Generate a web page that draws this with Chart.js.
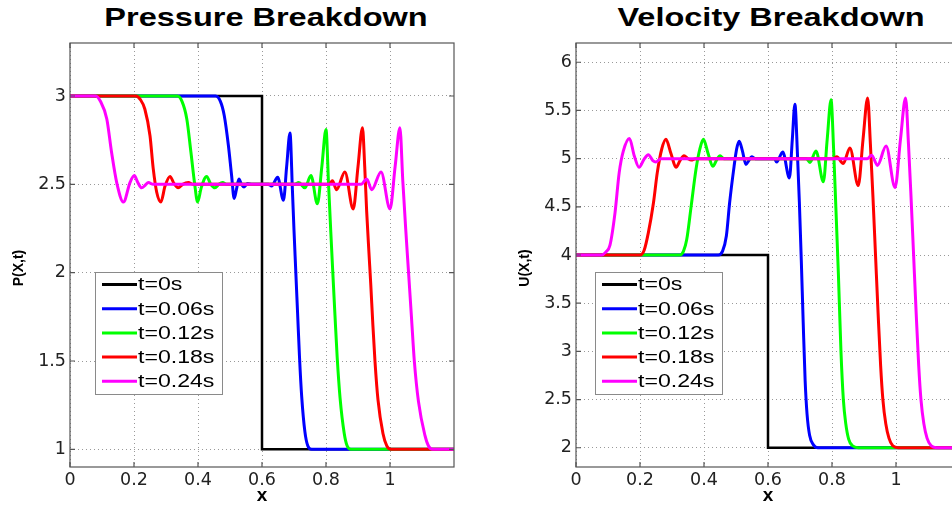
<!DOCTYPE html>
<html>
<head>
<meta charset="utf-8">
<script src="https://cdn.jsdelivr.net/npm/chart.js@4.4.1/dist/chart.umd.min.js"></script>
<style>
    body { margin: 0; background: #fff; width: 952px; height: 507px; overflow: hidden; position: relative; }
    canvas { position: absolute; top: 0; }
    #presChart { left: 0; }
    #velChart { left: 476px; }
    .ttl {
        position: absolute; top: 5px; width: 400px; margin-left: -200px;
        text-align: center; white-space: nowrap; color: #000;
        font: bold 25px/25px "Liberation Sans", Arial, sans-serif;
        transform: scaleX(1.3);
    }
</style>
</head>
<body>
<div class="ttl" style="left:266px">Pressure Breakdown</div>
<div class="ttl" style="left:771px">Velocity Breakdown</div>
<canvas id="presChart" width="476" height="507"></canvas>
<canvas id="velChart" width="506" height="507"></canvas>
<script>
// ===== Axis ticks and labels =====
const xTicks = [0, 0.2, 0.4, 0.6, 0.8, 1];
const xTickLabels = ['0', '0.2', '0.4', '0.6', '0.8', '1'];
const presTicks = [1, 1.5, 2, 2.5, 3];
const presTickLabels = ['1', '1.5', '2', '2.5', '3'];
const velTicks = [2, 2.5, 3, 3.5, 4, 4.5, 5, 5.5, 6];
const velTickLabels = ['2', '2.5', '3', '3.5', '4', '4.5', '5', '5.5', '6'];

// ===== Series =====
const seriesLabels = ['t=0s', 't=0.06s', 't=0.12s', 't=0.18s', 't=0.24s'];
const seriesColors = ['#000000', '#0000ff', '#00ff00', '#ff0000', '#ff00ff'];

// ===== Pressure P(X,t), [x, P] =====
const presT0 = [[0, 3], [0.6, 3], [0.6, 1], [1.2, 1]];
const presT006 = [
    [0, 3], [0.455, 3], [0.47, 2.97], [0.482, 2.89], [0.495, 2.72], [0.505, 2.55], [0.513, 2.42],
    [0.52, 2.47], [0.528, 2.53], [0.536, 2.5], [0.544, 2.485], [0.555, 2.505], [0.57, 2.5],
    [0.62, 2.5], [0.63, 2.49], [0.649, 2.54], [0.667, 2.41], [0.677, 2.6], [0.6875, 2.79],
    [0.695, 2.47], [0.7, 2.24], [0.705, 2.03], [0.711, 1.78], [0.717, 1.53], [0.724, 1.3],
    [0.734, 1.1], [0.743, 1.02], [0.755, 1], [1.2, 1]
];
const presT012 = [
    [0, 3], [0.335, 3], [0.35, 2.97], [0.365, 2.87], [0.378, 2.68], [0.389, 2.51], [0.399, 2.4],
    [0.41, 2.48], [0.427, 2.545], [0.44, 2.5], [0.453, 2.48], [0.465, 2.5], [0.477, 2.51], [0.49, 2.5],
    [0.7, 2.5], [0.715, 2.51], [0.734, 2.48], [0.753, 2.55], [0.773, 2.39], [0.787, 2.6], [0.8, 2.81],
    [0.808, 2.5], [0.815, 2.23], [0.821, 2.01], [0.828, 1.76], [0.835, 1.52], [0.844, 1.29],
    [0.857, 1.09], [0.866, 1.02], [0.878, 1], [1.2, 1]
];
const presT018 = [
    [0, 3], [0.205, 3], [0.22, 2.98], [0.234, 2.925], [0.25, 2.775], [0.26, 2.59], [0.271, 2.455],
    [0.284, 2.4], [0.297, 2.49], [0.3125, 2.545], [0.325, 2.505], [0.338, 2.48], [0.352, 2.5],
    [0.37, 2.51], [0.385, 2.5], [0.81, 2.5], [0.82, 2.52], [0.833, 2.47], [0.859, 2.57],
    [0.885, 2.36], [0.9, 2.6], [0.914, 2.82], [0.921, 2.6], [0.927, 2.35], [0.934, 2.12],
    [0.94, 1.93], [0.946, 1.72], [0.953, 1.5], [0.9625, 1.28], [0.978, 1.09], [0.99, 1.02],
    [1.003, 1], [1.2, 1]
];
const presT024 = [
    [0, 3], [0.08, 3], [0.095, 2.97], [0.115, 2.87], [0.13, 2.68], [0.146, 2.51], [0.167, 2.4],
    [0.1875, 2.51], [0.201, 2.55], [0.212, 2.51], [0.224, 2.48], [0.235, 2.495], [0.245, 2.51],
    [0.26, 2.5], [0.91, 2.5], [0.927, 2.53], [0.943, 2.47], [0.972, 2.57], [1.0, 2.36],
    [1.016, 2.6], [1.031, 2.82], [1.04, 2.52], [1.049, 2.25], [1.058, 2.0], [1.067, 1.75],
    [1.076, 1.5], [1.089, 1.27], [1.109, 1.08], [1.12, 1.02], [1.133, 1], [1.2, 1]
];

// ===== Velocity U(X,t), [x, U] =====
const velT0 = [[0, 4], [0.6, 4], [0.6, 2], [1.2, 2]];
const velT006 = [
    [0, 4], [0.445, 4], [0.458, 4.04], [0.47, 4.2], [0.48, 4.54], [0.494, 4.92], [0.502, 5.1],
    [0.51, 5.18], [0.52, 5.08], [0.531, 4.94], [0.54, 4.98], [0.549, 5.02], [0.56, 5.0],
    [0.62, 5.0], [0.627, 4.965], [0.646, 5.07], [0.667, 4.8], [0.676, 5.2], [0.684, 5.565],
    [0.692, 5.05], [0.698, 4.55], [0.704, 3.95], [0.71, 3.3], [0.716, 2.7], [0.722, 2.35],
    [0.73, 2.13], [0.742, 2.03], [0.756, 2], [1.2, 2]
];
const velT012 = [
    [0, 4], [0.325, 4], [0.336, 4.04], [0.346, 4.16], [0.36, 4.51], [0.375, 4.89], [0.387, 5.1],
    [0.398, 5.2], [0.413, 5.05], [0.4275, 4.92], [0.44, 4.99], [0.45, 5.03], [0.462, 5.0],
    [0.72, 5.0], [0.731, 4.96], [0.75, 5.08], [0.773, 4.76], [0.785, 5.2], [0.797, 5.61],
    [0.805, 5.1], [0.812, 4.5], [0.82, 3.8], [0.828, 3.0], [0.8355, 2.5], [0.843, 2.25],
    [0.852, 2.09], [0.864, 2.02], [0.882, 2], [1.2, 2]
];
const velT018 = [
    [0, 4], [0.2, 4], [0.213, 4.05], [0.226, 4.23], [0.242, 4.54], [0.254, 4.855], [0.268, 5.1],
    [0.281, 5.2], [0.297, 5.05], [0.3125, 4.91], [0.325, 4.98], [0.3375, 5.03], [0.35, 5.0],
    [0.36, 4.985], [0.375, 5.0], [0.805, 5.0], [0.815, 5.02], [0.835, 4.95], [0.856, 5.11],
    [0.882, 4.72], [0.897, 5.2], [0.9115, 5.63], [0.92, 5.15], [0.928, 4.6], [0.936, 4.0],
    [0.944, 3.4], [0.952, 2.85], [0.959, 2.5], [0.968, 2.25], [0.978, 2.1], [0.99, 2.02],
    [1.007, 2], [1.2, 2]
];
const velT024 = [
    [0, 4], [0.08, 4], [0.093, 4.03], [0.106, 4.1], [0.122, 4.44], [0.135, 4.855], [0.148, 5.08],
    [0.167, 5.21], [0.182, 5.03], [0.197, 4.91], [0.212, 4.99], [0.226, 5.04], [0.24, 4.98],
    [0.25, 4.965], [0.265, 5.0], [0.91, 5.0], [0.924, 5.035], [0.942, 4.93], [0.969, 5.13],
    [0.997, 4.7], [1.014, 5.2], [1.03, 5.63], [1.039, 5.15], [1.047, 4.6], [1.055, 4.0],
    [1.063, 3.4], [1.071, 2.85], [1.078, 2.5], [1.087, 2.25], [1.097, 2.1], [1.11, 2.02],
    [1.127, 2], [1.2, 2]
];

// ===== Plugins: axes box with inner ticks, y title, legend box =====
const frameBox = {
    id: 'frameBox',
    afterDraw(chart, args, opts) {
        const { ctx, chartArea: a, scales } = chart;
        ctx.save();
        ctx.strokeStyle = '#555';
        ctx.lineWidth = 1.2;
        ctx.strokeRect(a.left, a.top, a.right - a.left, a.bottom - a.top);
        ctx.beginPath();
        scales.x.ticks.forEach(t => {
            const px = scales.x.getPixelForValue(t.value);
            ctx.moveTo(px, a.bottom); ctx.lineTo(px, a.bottom - 5);
            ctx.moveTo(px, a.top); ctx.lineTo(px, a.top + 5);
        });
        scales.y.ticks.forEach(t => {
            const py = scales.y.getPixelForValue(t.value);
            ctx.moveTo(a.left, py); ctx.lineTo(a.left + 5, py);
            ctx.moveTo(a.right, py); ctx.lineTo(a.right - 5, py);
        });
        ctx.stroke();
        // y axis title, rotated
        ctx.translate(opts.titleX, opts.titleY);
        ctx.rotate(-Math.PI / 2);
        ctx.fillStyle = '#000';
        ctx.font = 'bold 14px "Liberation Sans", Arial, sans-serif';
        ctx.textAlign = 'center';
        ctx.textBaseline = 'middle';
        ctx.fillText(opts.title, 0, 0);
        ctx.restore();
    }
};

const boxLegend = {
    id: 'boxLegend',
    afterDatasetsDraw(chart, args, opts) {
        const ctx = chart.ctx;
        const x0 = chart.chartArea.left + opts.dx;
        const y0 = opts.top;
        ctx.save();
        ctx.fillStyle = '#fff';
        ctx.fillRect(x0, y0, 127, 122);
        ctx.strokeStyle = '#8a8a8a';
        ctx.lineWidth = 1;
        ctx.strokeRect(x0 + 0.5, y0 + 0.5, 127, 122);
        chart.data.datasets.forEach((ds, i) => {
            const yy = y0 + 12.5 + i * 24.2;
            ctx.strokeStyle = ds.borderColor;
            ctx.lineWidth = 3;
            ctx.beginPath();
            ctx.moveTo(x0 + 7, yy);
            ctx.lineTo(x0 + 42, yy);
            ctx.stroke();
            ctx.save();
            ctx.translate(x0 + 43, yy + 1);
            ctx.scale(1.32, 1);
            ctx.fillStyle = '#000';
            ctx.font = '17.5px "Liberation Sans", Arial, sans-serif';
            ctx.textBaseline = 'middle';
            ctx.fillText(ds.label, 0, 0);
            ctx.restore();
        });
        ctx.restore();
    }
};

// ===== Chart builder =====
function makeChart(id, cfg) {
    const tickFont = { family: '"DejaVu Sans", sans-serif', size: 17.5 };
    return new Chart(document.getElementById(id), {
        type: 'line',
        data: {
            datasets: cfg.series.map((pts, i) => ({
                label: seriesLabels[i],
                data: pts,
                order: cfg.series.length - i, // later times on top, like the plot
                borderColor: seriesColors[i],
                backgroundColor: seriesColors[i],
                borderWidth: i === 0 ? 2.5 : 3,
                pointRadius: 0,
                tension: 0,
                cubicInterpolationMode: i === 0 ? 'default' : 'monotone',
                fill: false
            }))
        },
        options: {
            responsive: false,
            animation: false,
            layout: { padding: { top: 43, right: 22, left: 0, bottom: 0 } },
            plugins: {
                legend: { display: false },
                tooltip: { enabled: false },
                boxLegend: { dx: cfg.legendDx, top: 272 },
                frameBox: { title: cfg.yTitle, titleX: cfg.yTitleX, titleY: 268 }
            },
            scales: {
                x: {
                    type: 'linear', min: 0, max: 1.2,
                    afterBuildTicks: ax => { ax.ticks = xTicks.map(v => ({ value: v })); },
                    afterFit: ax => { ax.height = 40; },
                    ticks: {
                        callback: v => xTickLabels[xTicks.indexOf(v)],
                        font: tickFont, color: '#222', padding: 3, maxRotation: 0, autoSkip: false
                    },
                    grid: { color: '#999', drawTicks: false },
                    border: { display: false, dash: [1, 3] },
                    title: {
                        display: true, text: 'x', color: '#000', padding: 0,
                        font: { family: '"Liberation Sans", Arial, sans-serif', weight: 'bold', size: 19 }
                    }
                },
                y: {
                    type: 'linear', min: cfg.yMin, max: cfg.yMax,
                    afterBuildTicks: ax => { ax.ticks = cfg.yTicks.map(v => ({ value: v })); },
                    afterFit: ax => { ax.width = cfg.yWidth; },
                    ticks: {
                        callback: v => cfg.yTickLabels[cfg.yTicks.indexOf(v)],
                        font: tickFont, color: '#222', padding: 4, autoSkip: false
                    },
                    grid: { color: '#999', drawTicks: false },
                    border: { display: false, dash: [1, 3] }
                }
            }
        },
        plugins: [boxLegend, frameBox]
    });
}

// ===== Build both panels =====
makeChart('presChart', {
    series: [presT0, presT006, presT012, presT018, presT024],
    yMin: 0.9, yMax: 3.3, yTicks: presTicks, yTickLabels: presTickLabels,
    yTitle: 'P(X,t)', yTitleX: 19, yWidth: 70, legendDx: 25
});
makeChart('velChart', {
    series: [velT0, velT006, velT012, velT018, velT024],
    yMin: 1.8, yMax: 6.2, yTicks: velTicks, yTickLabels: velTickLabels,
    yTitle: 'U(X,t)', yTitleX: 49, yWidth: 100, legendDx: 19
});
</script>
</body>
</html>
